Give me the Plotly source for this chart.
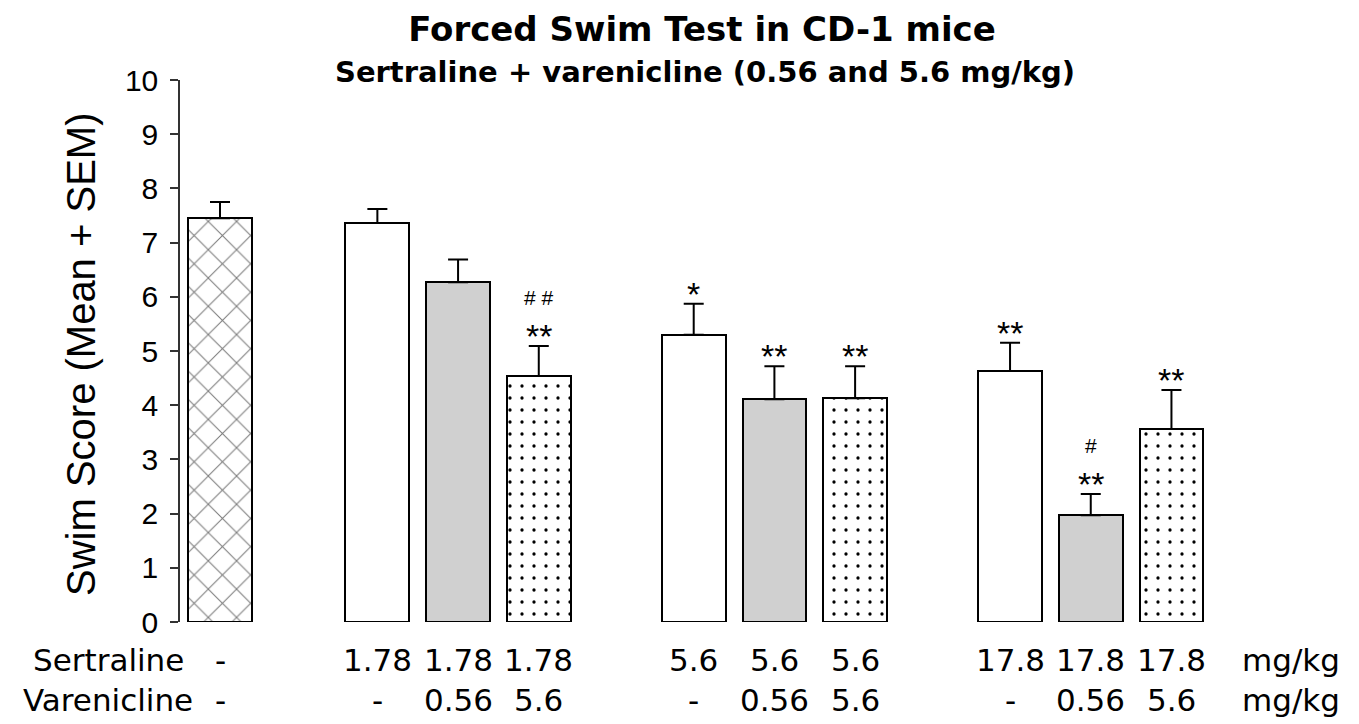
import plotly.graph_objects as go

# ---------------- data ----------------
sertraline_doses = ["-", "1.78", "1.78", "1.78", "5.6", "5.6", "5.6", "17.8", "17.8", "17.8"]
varenicline_doses = ["-", "-", "0.56", "5.6", "-", "0.56", "5.6", "-", "0.56", "5.6"]
means = [7.45, 7.36, 6.27, 4.54, 5.30, 4.11, 4.13, 4.63, 1.97, 3.56]
sems = [0.30, 0.26, 0.42, 0.55, 0.57, 0.61, 0.59, 0.52, 0.39, 0.72]
stars = ["", "", "", "**", "*", "**", "**", "**", "**", "**"]
hashes = ["", "", "", "# #", "", "", "", "", "#", ""]
y_ticks = [0, 1, 2, 3, 4, 5, 6, 7, 8, 9, 10]

title_text = "Forced Swim Test in CD-1 mice"
subtitle_text = "Sertraline + varenicline (0.56 and 5.6 mg/kg)"
y_title = "Swim Score (Mean + SEM)"
row_names = ["Sertraline", "Varenicline"]
unit = "mg/kg"

# ---------------- layout geometry ----------------
OFF = 0  # page body margin removed via post_script
W, H = 1359 - 2 * OFF, 724 - 2 * OFF
ML, MT = 180 - OFF, 80 - OFF
PLOT_BOTTOM = 622 - OFF
PLOT_RIGHT = 1261 - OFF
MB = H - PLOT_BOTTOM
MR = W - PLOT_RIGHT
PW, PH = W - ML - MR, H - MT - MB
SLOT_PX = 80.7
VEH_PX = 220 - OFF
xmin = (ML - VEH_PX) / SLOT_PX
xmax = xmin + PW / SLOT_PX
group_start = [1.95 + g * 3.92 for g in range(3)]
bar_w = 0.79


def pos(i):
    if i == 0:
        return 0.0
    g, b = divmod(i - 1, 3)
    return group_start[g] + b


def px_x(px):
    return (px - OFF - ML) / PW


def px_y(py):
    return (PLOT_BOTTOM - (py - OFF)) / PH


xs = [pos(i) for i in range(len(means))]

SANS = "Liberation Sans, Arial, sans-serif"
WIDE = "DejaVu Sans, sans-serif"

styles = {
    "vehicle": dict(color="white", pattern=dict(shape="x", fgcolor="#7a7a7a", bgcolor="white",
                                                 size=20, solidity=0.1, fillmode="replace")),
    "alone": dict(color="white"),
    "v056": dict(color="#d0d0d0"),
    "v56": dict(color="white", pattern=dict(shape=".", fgcolor="black", bgcolor="white",
                                             size=12, solidity=0.06, fillmode="replace")),
}


def kind(i):
    if sertraline_doses[i] == "-":
        return "vehicle"
    return {"-": "alone", "0.56": "v056", "5.6": "v56"}[varenicline_doses[i]]


fig = go.Figure()
for k, st in styles.items():
    idx = [i for i in range(len(means)) if kind(i) == k]
    fig.add_trace(go.Bar(
        x=[xs[i] for i in idx], y=[means[i] for i in idx], width=bar_w,
        marker=dict(color=st["color"], pattern=st.get("pattern", None),
                    line=dict(color="black", width=2)),
        error_y=dict(type="data", array=[sems[i] for i in idx],
                     arrayminus=[0] * len(idx), symmetric=False,
                     color="black", thickness=2, width=10),
        showlegend=False, hoverinfo="skip",
    ))

ann = []
for i in range(len(means)):
    top = means[i] + sems[i]
    if stars[i]:
        ann.append(dict(x=xs[i], y=top, xref="x", yref="y", text=stars[i], showarrow=False,
                        yanchor="middle", yshift=10, font=dict(family=SANS, size=34, color="black")))
    if hashes[i]:
        ann.append(dict(x=xs[i], y=top, xref="x", yref="y", text=hashes[i], showarrow=False,
                        yanchor="middle", yshift=49, font=dict(family=SANS, size=21, color="black")))

row_y = [px_y(660), px_y(700)]
for r, labels in enumerate([sertraline_doses, varenicline_doses]):
    for i, t in enumerate(labels):
        ann.append(dict(x=xs[i], y=row_y[r], xref="x", yref="paper", text=t, showarrow=False,
                        xanchor="center", yanchor="middle",
                        font=dict(family=WIDE, size=31, color="black")))
    ann.append(dict(x=px_x(108), y=row_y[r], xref="paper", yref="paper", text=row_names[r],
                    showarrow=False, xanchor="center", yanchor="middle",
                    font=dict(family=WIDE, size=31, color="black")))
    ann.append(dict(x=px_x(1291), y=row_y[r], xref="paper", yref="paper", text=unit,
                    showarrow=False, xanchor="center", yanchor="middle",
                    font=dict(family=WIDE, size=31, color="black")))

ann.append(dict(x=px_x(705), y=px_y(72), xref="paper", yref="paper",
                text="<b>" + subtitle_text + "</b>", showarrow=False,
                xanchor="center", yanchor="middle",
                font=dict(family=WIDE, size=29, color="black")))
ann.append(dict(x=px_x(81), y=px_y(355), xref="paper", yref="paper", text=y_title,
                textangle=-90, showarrow=False, xanchor="center", yanchor="middle",
                font=dict(family=SANS, size=40, color="black")))

fig.update_layout(
    width=W, height=H,
    margin=dict(l=ML, r=MR, t=MT, b=MB),
    paper_bgcolor="white", plot_bgcolor="white",
    title=dict(text="<b>" + title_text + "</b>", x=(702 - OFF) / W, xanchor="center",
               y=1 - (29 - OFF) / H, yanchor="middle",
               font=dict(family=WIDE, size=34, color="black")),
    xaxis=dict(range=[xmin, xmax], visible=False),
    yaxis=dict(range=[0, 10], tickvals=y_ticks, showgrid=False, zeroline=False,
               showline=True, linecolor="#333333", linewidth=1.5,
               ticks="outside", ticklen=8, tickcolor="#333333", tickwidth=1.5,
               ticklabelstandoff=6,
               tickfont=dict(family=SANS, size=30, color="black")),
    annotations=ann,
    bargap=0,
)

fig.write_html(
    "out.html",
    config={"displayModeBar": False},
    post_script="document.body.style.margin='0px';document.body.style.overflow='hidden';",
)
